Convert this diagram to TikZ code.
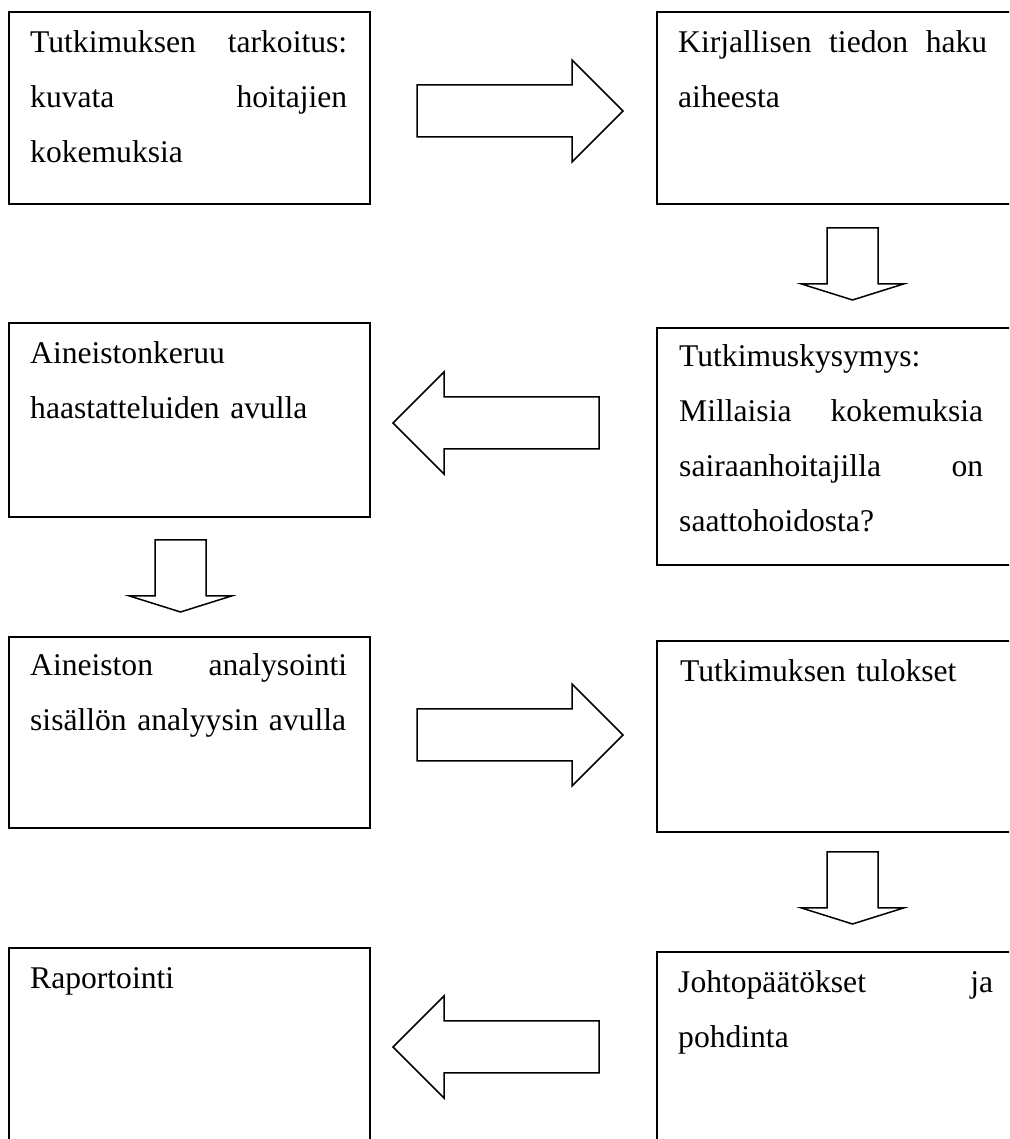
\documentclass[tikz,border=0pt]{standalone}
\usepackage{fontspec}
\setmainfont{Liberation Serif}
\tikzset{
  box/.style={draw,line width=1.6pt,anchor=north west,inner sep=0pt,outer sep=0pt},
  txt/.style={anchor=base west,inner sep=0pt,text width=#1,align=left},
  arr/.style={draw,line width=1.5pt,fill=white},
  pics/rarrow/.style={code={\draw[arr] (0,-26)--(155,-26)--(155,-51)--(206,0)--(155,51)--(155,26)--(0,26)--cycle;}},
  pics/darrow/.style={code={\draw[arr] (-25.5,0)--(-25.5,-56)--(-51,-56)--(0,-72)--(51,-56)--(25.5,-56)--(25.5,0)--cycle;}}
}
\begin{document}
\begin{tikzpicture}[x=1pt,y=1pt,font=\fontsize{31.6pt}{55pt}\selectfont]
	\path[fill=white,use as bounding box] (0,0) rectangle (1009,1139);
	\clip (0,0) rectangle (1009,1139);
	% laatikot: vasen sarake x=9, oikea x=657
	\foreach \n/\x/\y/\h in {1/9/1127/192,2/657/1127/192,3/9/816/194,4/657/811/237,5/9/502/191,6/657/498/191,7/9/191/230,8/657/187/230}
		\node[box,minimum width=361pt,minimum height=\h pt] (b\n) at (\x,\y) {};
	\node[txt=317pt] (t1) at ([shift={(21,-41)}]b1.north west) {Tutkimuksen\hfill tarkoitus:\\kuvata\hfill hoitajien\\kokemuksia};
	\node[txt=309pt] (t2) at ([shift={(21,-41)}]b2.north west) {Kirjallisen\hfill tiedon\hfill haku\\aiheesta};
	\node[txt=317pt] (t3) at ([shift={(21,-41)}]b3.north west) {Aineistonkeruu\\haastatteluiden avulla};
	\node[txt=304pt] (t4) at ([shift={(22,-39)}]b4.north west) {Tutkimuskysymys:\\Millaisia\hfill kokemuksia\\sairaanhoitajilla\hfill on\\saattohoidosta?};
	\node[txt=317pt] (t5) at ([shift={(21,-39)}]b5.north west) {Aineiston\hfill analysointi\\sisällön analyysin avulla};
	\node[txt=317pt] (t6) at ([shift={(23,-41)}]b6.north west) {Tutkimuksen tulokset};
	\node[txt=317pt] (t7) at ([shift={(21,-41)}]b7.north west) {Raportointi};
	\node[txt=315pt] (t8) at ([shift={(21,-41)}]b8.north west) {Johtopäätökset\hfill ja\\pohdinta};
	% nuolet
	\pic at (417,1028) {rarrow};
	\pic at (852.5,911) {darrow};
	\pic[rotate=180] at (599,716) {rarrow};
	\pic at (180.5,599) {darrow};
	\pic at (417,404) {rarrow};
	\pic at (852.5,287) {darrow};
	\pic[rotate=180] at (599,92) {rarrow};
\end{tikzpicture}
\end{document}
